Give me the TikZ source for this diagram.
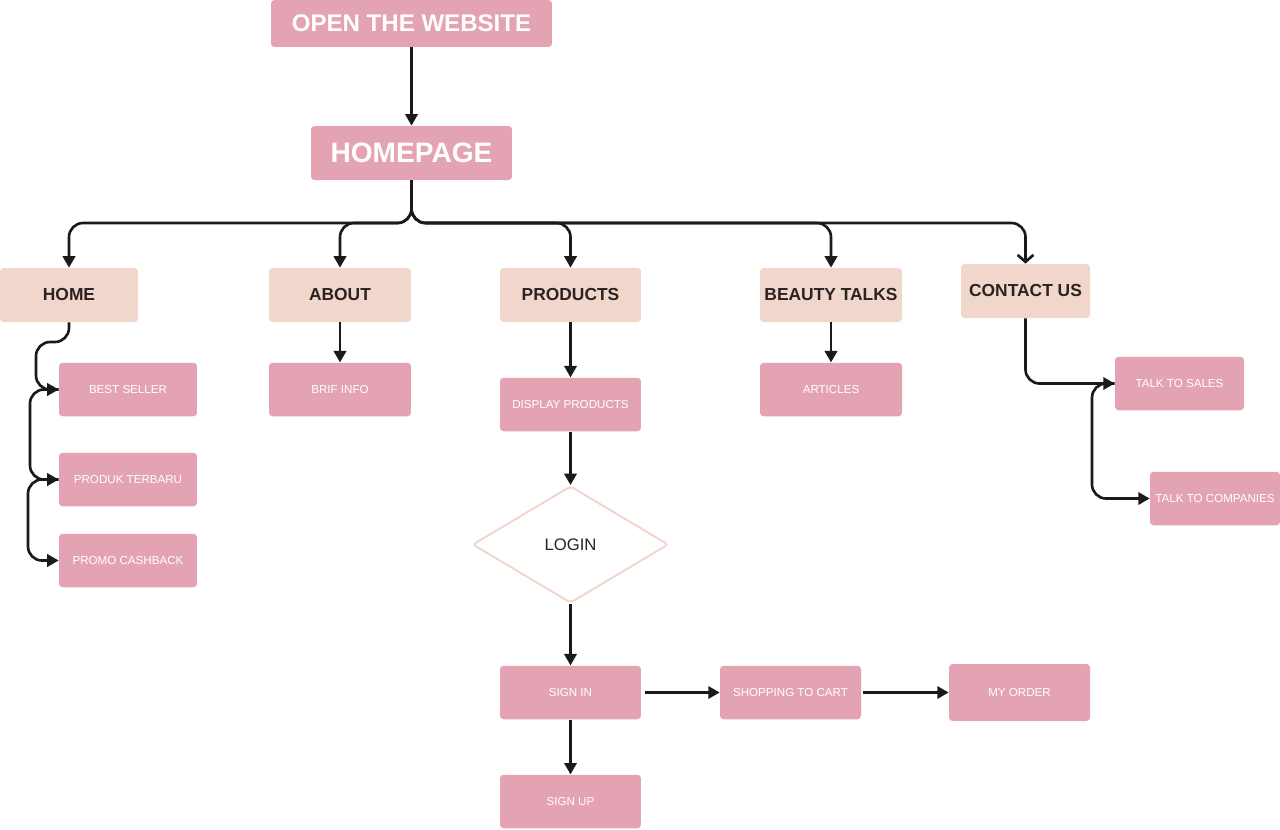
\documentclass[tikz,border=0pt]{standalone}
\usepackage{fontspec}
\setmainfont{Liberation Sans}
\usetikzlibrary{arrows.meta,shapes.geometric}
\definecolor{rosebox}{RGB}{228,163,179}
\definecolor{nudebox}{RGB}{240,214,203}
\definecolor{inktext}{RGB}{43,34,34}
\definecolor{linkline}{RGB}{26,26,26}
\tikzset{
  pagebox/.style={fill=rosebox, text=white, rounded corners=2pt, inner sep=0pt,
    minimum width=2.82cm, minimum height=1.07cm, font=\fontsize{6.6}{8}\selectfont},
  menubox/.style={fill=nudebox, text=inktext, rounded corners=2pt, inner sep=0pt,
    minimum width=2.82cm, minimum height=1.08cm, font=\bfseries\fontsize{9.9}{12}\selectfont},
  headbox/.style={pagebox, font=\bfseries\fontsize{13.7}{16}\selectfont},
  askbox/.style={diamond, draw=nudebox, line width=1.1pt, fill=white, text=inktext, inner sep=0pt,
    rounded corners=2pt, minimum width=3.92cm, minimum height=2.34cm, font=\fontsize{9.5}{11}\selectfont},
  link/.style={draw=linkline, line width=1.5pt, rounded corners=8pt, -{Triangle[length=6.5pt,width=7pt]}},
}
\begin{document}
\begin{tikzpicture}[x=0.02cm, y=-0.02cm]
  \useasboundingbox (0,0) rectangle (1280,829);
  % top
  \node[headbox, minimum width=5.62cm, minimum height=0.94cm] (open) at (411.5,23.5) {OPEN THE WEBSITE};
  \node[headbox, minimum width=4.02cm, minimum height=1.08cm, font=\bfseries\fontsize{16}{18}\selectfont] (homepage) at (411.5,153) {HOMEPAGE};
  \coordinate (fork) at (411.5,223);
  % menu
  \node[menubox, minimum width=2.76cm] (home) at (69,295) {HOME};
  \node[menubox, minimum width=2.84cm] (about) at (340,295) {ABOUT};
  \node[menubox] (products) at (570.5,295) {PRODUCTS};
  \node[menubox, minimum width=2.84cm] (beauty) at (831,295) {BEAUTY TALKS};
  \node[menubox, minimum width=2.58cm] (contact) at (1025.5,291) {CONTACT US};
  % pages
  \node[pagebox, minimum width=2.76cm] (bestseller) at (128,389.5) {BEST SELLER};
  \node[pagebox, minimum width=2.76cm] (terbaru) at (128,479.5) {PRODUK TERBARU};
  \node[pagebox, minimum width=2.76cm] (cashback) at (128,560.5) {PROMO CASHBACK};
  \node[pagebox, minimum width=2.84cm] (brif) at (340,389.5) {BRIF INFO};
  \node[pagebox] (display) at (570.5,404.5) {DISPLAY PRODUCTS};
  \node[pagebox, minimum width=2.84cm] (articles) at (831,389.5) {ARTICLES};
  \node[pagebox, minimum width=2.58cm] (sales) at (1179.5,383.5) {TALK TO SALES};
  \node[pagebox, minimum width=2.6cm] (companies) at (1215,498.5) {TALK TO COMPANIES};
  \node[askbox] (login) at (570.5,544.5) {LOGIN};
  \node[pagebox] (signin) at (570.5,692.5) {SIGN IN};
  \node[pagebox] (cart) at (790.5,692.5) {SHOPPING TO CART};
  \node[pagebox, minimum height=1.14cm] (order) at (1019.5,692.5) {MY ORDER};
  \node[pagebox] (signup) at (570.5,801.5) {SIGN UP};
  \begin{scope}[link]
    \draw (open) -- (homepage);
    \draw (homepage.south) |- (home.north |- fork) -- (home.north);
    \draw (homepage.south) |- (about.north |- fork) -- (about.north);
    \draw (homepage.south) |- (products.north |- fork) -- (products.north);
    \draw (homepage.south) |- (beauty.north |- fork) -- (beauty.north);
    \draw[-{Straight Barb[length=4pt,width=9pt]}] (homepage.south) |- (contact.north |- fork) -- (contact.north);
    \draw (home.south) |- (36,342) |- (bestseller.west);
    \draw (bestseller.west) -| (30,435) |- (terbaru.west);
    \draw (terbaru.west) -| (28,520) |- (cashback.west);
    \draw (about) -- (brif);
    \draw (products) -- (display);
    \draw (beauty) -- (articles);
    \draw (contact.south) |- (sales.west);
    \draw (sales.west) -| (1092,440) |- (companies.west);
    \draw (display) -- (login);
    \draw (login) -- (signin);
    \draw (signin) -- (signup);
    \draw[shorten <=2pt] (signin) -- (cart);
    \draw[shorten <=1pt] (cart) -- (order);
  \end{scope}
\end{tikzpicture}
\end{document}
